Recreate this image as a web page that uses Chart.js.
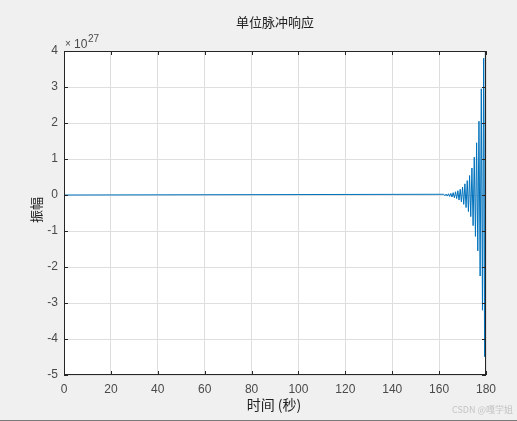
<!DOCTYPE html>
<html>
<head>
<meta charset="utf-8">
<script src="https://cdn.jsdelivr.net/npm/chart.js@4.4.0/dist/chart.umd.min.js"></script>
<style>
    html, body { margin: 0; padding: 0; background: #f0f0f0; }
    #box { width: 517px; height: 421px; }
</style>
</head>
<body>
<div id="box"><canvas id="myChart" width="517" height="421"></canvas></div>
<script>
// time axis (seconds) and response (units of 1e27)
var time = [0, 162.0, 162.5, 163.0, 163.5, 164.0, 164.5, 165.0, 165.5,
    166.0, 166.5, 167.0, 167.5, 168.0, 168.5, 169.0, 169.5,
    170.0, 170.5, 171.0, 171.5, 172.0, 172.5, 173.0, 173.5,
    174.0, 174.5, 175.0, 175.5, 176.0, 176.5, 177.0, 177.5,
    178.0, 178.5, 179.0, 179.4, 179.75, 180.0];
var amp = [0, 0.02, -0.02, 0.025, -0.03, 0.035, -0.04, 0.045, -0.055,
    0.065, -0.075, 0.09, -0.10, 0.12, -0.14, 0.16, -0.19,
    0.22, -0.26, 0.31, -0.35, 0.40, -0.46, 0.54, -0.60,
    0.75, -0.85, 1.05, -1.15, 1.45, -1.55, 2.05, -2.25,
    2.95, -3.20, 3.80, -4.49, 4.00, -1.50];
var xTicks = [0, 20, 40, 60, 80, 100, 120, 140, 160, 180];
var yTicks = [-5, -4, -3, -2, -1, 0, 1, 2, 3, 4];

var points = [];
for (var i = 0; i < time.length; i++) {
    points.push({x: time[i], y: amp[i]});
}

var axisCol = "#262626";
var textCol = "#4a4a4a";
var cjk = "'Noto Sans CJK SC', sans-serif";
var sans = "'Liberation Sans', Arial, sans-serif";

// frame, inward ticks and free text (MATLAB look)
var matlabDeco = {
    id: "matlabDeco",
    beforeDraw: function (chart) {
        var c = chart.ctx, a = chart.chartArea;
        c.save();
        c.fillStyle = "#f0f0f0";
        c.fillRect(0, 0, chart.width, chart.height);
        c.fillStyle = "#ffffff";
        c.fillRect(a.left, a.top, a.right - a.left, a.bottom - a.top);
        c.restore();
    },
    afterDraw: function (chart) {
        var c = chart.ctx, a = chart.chartArea;
        var xs = chart.scales.x, ys = chart.scales.y;
        c.save();
        c.strokeStyle = axisCol;
        c.lineWidth = 1;
        c.strokeRect(a.left + 0.5, a.top + 0.5, a.right - a.left - 1, a.bottom - a.top - 1);
        c.beginPath();
        for (var i = 0; i < xTicks.length; i++) {
            var px = Math.round(xs.getPixelForValue(xTicks[i])) + 0.5;
            c.moveTo(px, a.bottom); c.lineTo(px, a.bottom - 4);
            c.moveTo(px, a.top); c.lineTo(px, a.top + 4);
        }
        for (var j = 0; j < yTicks.length; j++) {
            var py = Math.round(ys.getPixelForValue(yTicks[j])) + 0.5;
            c.moveTo(a.left, py); c.lineTo(a.left + 4, py);
            c.moveTo(a.right, py); c.lineTo(a.right - 4, py);
        }
        c.stroke();

        c.fillStyle = "#222";
        c.textAlign = "center";
        c.textBaseline = "middle";
        c.font = "13px " + cjk;
        c.fillText("单位脉冲响应", 275, 22);
        c.font = "14px " + cjk;
        c.fillText("时间 (秒)", 274, 405);
        c.save();
        c.translate(36, 210);
        c.rotate(-Math.PI / 2);
        c.font = "13px " + cjk;
        c.fillText("振幅", 0, 0);
        c.restore();

        // exponent label
        c.fillStyle = textCol;
        c.textAlign = "left";
        c.textBaseline = "alphabetic";
        c.font = "10px " + sans;
        c.fillText("\u00d7", 65, 47);
        c.font = "12px " + sans;
        c.fillText("10", 74, 48);
        c.font = "10px " + sans;
        c.fillText("27", 88, 42);

        c.fillStyle = "#c4c4c4";
        c.textAlign = "right";
        c.font = "9px " + cjk;
        c.fillText("CSDN @嘎学姐", 513, 413);

        c.fillStyle = "#7a7a7a";
        c.fillRect(0, 420, chart.width, 1);
        c.restore();
    }
};

var ctx = document.getElementById("myChart");
var myChart = new Chart(ctx, {
    type: "line",
    data: {
        datasets: [{
            data: points,
            borderColor: "#0072BD",
            borderWidth: 1,
            pointRadius: 0,
            tension: 0,
            fill: false
        }]
    },
    options: {
        responsive: false,
        animation: false,
        layout: { padding: { top: 51, right: 31, left: 0, bottom: 0 } },
        plugins: {
            legend: { display: false },
            tooltip: { enabled: false }
        },
        scales: {
            x: {
                type: "linear",
                min: 0,
                max: 180,
                afterFit: function (s) { s.height = 46; },
                afterBuildTicks: function (s) { s.ticks = xTicks.map(function (v) { return {value: v}; }); },
                grid: { color: "#dedede", drawTicks: false },
                border: { display: false },
                ticks: {
                    padding: 7,
                    color: textCol,
                    maxRotation: 0,
                    font: { family: sans, size: 12 }
                }
            },
            y: {
                min: -5,
                max: 4,
                afterFit: function (s) { s.width = 64; },
                afterBuildTicks: function (s) { s.ticks = yTicks.map(function (v) { return {value: v}; }); },
                grid: { color: "#dedede", drawTicks: false },
                border: { display: false },
                ticks: {
                    padding: 6,
                    color: textCol,
                    font: { family: sans, size: 12 }
                }
            }
        }
    },
    plugins: [matlabDeco]
});
</script>
</body>
</html>
